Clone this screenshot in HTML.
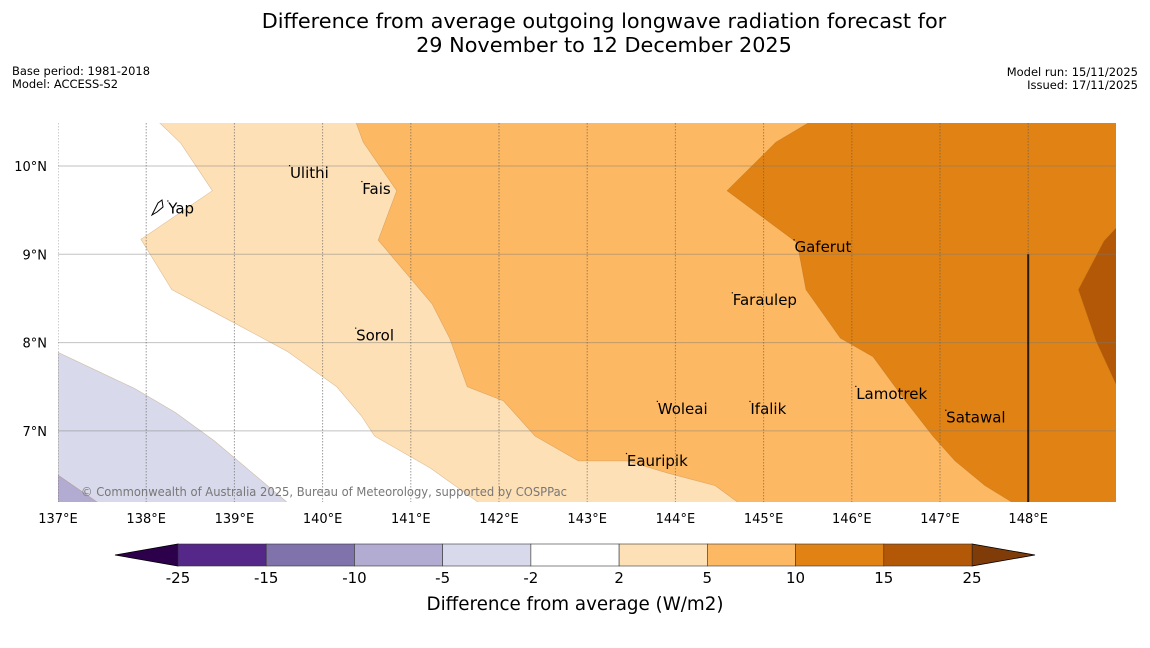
<!DOCTYPE html>
<html><head><meta charset="utf-8"><style>
body{margin:0;background:#fff;width:1150px;height:644px;overflow:hidden;font-family:"DejaVu Sans","Liberation Sans",sans-serif}
svg text{font-family:"DejaVu Sans","Liberation Sans",sans-serif}
</style></head><body>
<svg id="chart" width="1150" height="644" xmlns="http://www.w3.org/2000/svg">
<text x="604" y="28" font-size="20.8" text-anchor="middle">Difference from average outgoing longwave radiation forecast for</text>
<text x="604" y="52" font-size="20.8" text-anchor="middle">29 November to 12 December 2025</text>
<text x="12" y="75" font-size="11.5" textLength="138" lengthAdjust="spacingAndGlyphs">Base period: 1981-2018</text>
<text x="12" y="88" font-size="11.5" textLength="106" lengthAdjust="spacingAndGlyphs">Model: ACCESS-S2</text>
<text x="1138" y="76" font-size="11.5" text-anchor="end">Model run: 15/11/2025</text>
<text x="1138" y="89" font-size="11.5" text-anchor="end">Issued: 17/11/2025</text>
<g id="map"></g>
<g id="cbar"></g>
<text x="575" y="610" font-size="18.3" text-anchor="middle">Difference from average (W/m2)</text>
</svg>
<script>
const lonTicks=[137,138,139,140,141,142,143,144,145,146,147,148];
const latTicks=[7,8,9,10];
const levels=[-25,-15,-10,-5,-2,2,5,10,15,25];
const levelColors=["#542788","#8073ac","#b2abd2","#d8daeb","#ffffff","#fee0b6","#fdb863","#e08214","#b35806"];
const lowColor="#2d004b", highColor="#7f3b08";
// contour regions as [lon,lat] pairs, painted in order
const regPurpleLight=[[137,7.89],[137.36,7.72],[137.87,7.48],[138.33,7.21],[138.77,6.89],[139.6,6.19],[137,6.19]];
const regPurpleMid=[[137,6.5],[137.45,6.19],[137,6.19]];
const regLight=[[138.15,10.49],[138.39,10.26],[138.75,9.72],[137.94,9.17],[138.29,8.6],[138.76,8.35],[139.6,7.9],[140.16,7.5],[140.44,7.17],[140.59,6.94],[141.22,6.58],[141.78,6.18],[149,6.18],[149,10.49]];
const regMed=[[140.38,10.49],[140.46,10.27],[140.84,9.72],[140.63,9.16],[141.24,8.44],[141.44,8.05],[141.64,7.5],[142.05,7.34],[142.41,6.94],[142.9,6.66],[143.45,6.66],[143.92,6.52],[144.45,6.38],[144.71,6.19],[149,6.19],[149,10.49]];
const regDark=[[149.5,6.19],[147.82,6.19],[147.51,6.38],[147.17,6.66],[146.92,6.94],[146.6,7.35],[146.24,7.84],[145.87,8.05],[145.48,8.6],[145.38,9.13],[144.585,9.72],[145.14,10.27],[145.51,10.49],[149,10.49]];
const regDarkest=[[149,9.3],[148.86,9.15],[148.57,8.6],[148.77,8.02],[149,7.52]];
const places=[["Yap",138.25,9.52],["Ulithi",139.63,9.92],["Fais",140.45,9.74],["Sorol",140.38,8.08],["Gaferut",145.35,9.08],["Faraulep",144.65,8.48],["Woleai",143.8,7.25],["Ifalik",144.85,7.25],["Lamotrek",146.05,7.42],["Satawal",147.07,7.15],["Eauripik",143.45,6.66]];
const X=lon=>58+(lon-137)*88.2;
const Y=lat=>166+(10-lat)*88.3;
const NS="http://www.w3.org/2000/svg";
const map=document.getElementById('map');
function mk(tag,attrs,parent){const e=document.createElementNS(NS,tag);for(const k in attrs)e.setAttribute(k,attrs[k]);parent.appendChild(e);return e;}
const clip=mk('clipPath',{id:'mc'},map);mk('rect',{x:58,y:123,width:1058,height:379},clip);
const g=mk('g',{'clip-path':'url(#mc)'},map);
function poly(pts,fill,name){const p=mk('polygon',{points:pts.map(q=>X(q[0])+','+Y(q[1])).join(' '),fill:fill,stroke:'rgba(160,100,30,0.35)','stroke-width':0.6},g);

}
poly(regPurpleLight,levelColors[3],'region-minus5-to-minus2');
poly(regPurpleMid,levelColors[2],'region-minus10-to-minus5');
poly(regLight,levelColors[5],'region-2-to-5');
poly(regMed,levelColors[6],'region-5-to-10');
poly(regDark,levelColors[7],'region-10-to-15');
poly(regDarkest,levelColors[8],'region-15-to-25');
latTicks.forEach(l=>{const ln=mk('line',{x1:58,x2:1116,y1:Y(l),y2:Y(l),stroke:'rgba(120,120,120,0.45)','stroke-width':1},g);


const t=mk('text',{x:47,y:Y(l)+5,'font-size':13,'text-anchor':'end'},map);t.textContent=l+'°N';

});
lonTicks.forEach(l=>{const ln=mk('line',{x1:X(l),x2:X(l),y1:123,y2:502,stroke:'rgba(90,90,90,0.6)','stroke-width':1,'stroke-dasharray':'1.5,1.5'},g);


const t=mk('text',{x:X(l),y:523,'font-size':13,'text-anchor':'middle'},map);t.textContent=l+'°E';

});
const bl=mk('line',{x1:X(148),x2:X(148),y1:Y(9),y2:502,stroke:'#2a1a08','stroke-width':2},g);


const yi=mk('path',{d:'M152,215 L158,203 L162,200 L163,207 L157,212 Z',fill:'none',stroke:'#000','stroke-width':1},g);


places.forEach(p=>{const t=mk('text',{x:X(p[1]),y:Y(p[2])+5,'font-size':15},g);t.textContent=p[0];


const d=mk('rect',{x:X(p[1])-1,y:Y(p[2])-8,width:1.2,height:1.2,fill:'#000'},g);

});
const cp=mk('text',{x:81,y:496,'font-size':12,fill:'#777',textLength:486,lengthAdjust:'spacingAndGlyphs'},g);cp.textContent='© Commonwealth of Australia 2025, Bureau of Meteorology, supported by COSPPac';


// colorbar
const cb=document.getElementById('cbar');
const C0=178,C1=972,cy0=544,cy1=566;
const CX=i=>C0+(C1-C0)*i/(levels.length-1);
const lt=mk('polygon',{points:`115,555 ${C0},${cy0} ${C0},${cy1}`,fill:lowColor,stroke:'#000','stroke-width':0.8},cb);


const ht=mk('polygon',{points:`1035,555 ${C1},${cy0} ${C1},${cy1}`,fill:highColor,stroke:'#000','stroke-width':0.8},cb);


levelColors.forEach((c,i)=>{const r=mk('rect',{x:CX(i),y:cy0,width:CX(i+1)-CX(i),height:cy1-cy0,fill:c,stroke:'#333','stroke-width':0.6},cb);

});
levels.forEach((v,i)=>{const t=mk('text',{x:CX(i),y:583,'font-size':15,'text-anchor':'middle'},cb);t.textContent=v;

});
</script>
</body></html>
